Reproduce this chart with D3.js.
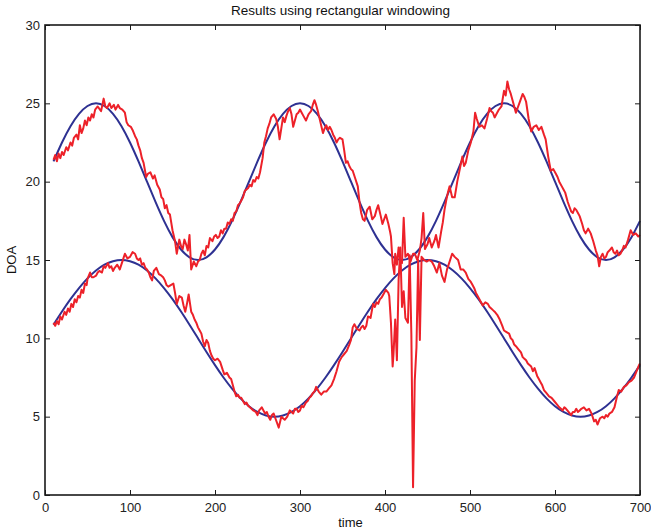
<!DOCTYPE html>
<html><head><meta charset="utf-8">
<script src="https://cdn.jsdelivr.net/npm/d3@7/dist/d3.min.js"></script>
<style>body{margin:0;background:#fff}svg{display:block;font-family:"Liberation Sans",Arial,Helvetica,sans-serif}</style>
</head><body><svg id="c" width="651" height="532"></svg>
<script>
const title = "Results using rectangular windowing";
const xLabel = "time", yLabel = "DOA";
const xTicks = [0,100,200,300,400,500,600,700];
const yTicks = [0,5,10,15,20,25,30];

const blueT = d3.range(10, 701, 10);
const blueUpper = [21.29,22.5,23.54,24.33,24.83,
 25,24.83,24.33,23.54,22.5,21.29,20,18.71,17.5,16.46,15.67,15.17,15,15.17,15.67,16.46,17.5,18.71,20,21.29,22.5,23.54,24.33,24.83,
 25,24.83,24.33,23.54,22.5,21.29,20,18.71,17.5,16.46,15.67,15.17,15,15.17,15.67,16.46,17.5,18.71,20,21.29,22.5,23.54,24.33,24.83,
 25,24.83,24.33,23.54,22.5,21.29,20,18.71,17.5,16.46,15.67,15.17,15,15.17,15.67,16.46,17.5];
const blueLower = [10.87,11.71,12.5,13.21,13.83,14.33,14.70,14.92,
 15,14.92,14.70,14.33,13.83,13.21,12.5,11.71,10.87,10,9.13,8.29,7.5,6.79,6.17,5.67,5.30,5.08,5,5.08,5.30,5.67,6.17,6.79,7.5,8.29,9.13,10,
 10.87,11.71,12.5,13.21,13.83,14.33,14.70,14.92,15,14.92,14.70,14.33,13.83,13.21,12.5,11.71,10.87,10,9.13,8.29,7.5,6.79,6.17,5.67,5.30,5.08,5,
 5.08,5.30,5.67,6.17,6.79,7.5,8.29];

const redUpper = [[10,21.4],[12,21.7],[14,21.3],[16,21.8],[18,21.5],[20,21.9],[22,21.7],[25,22.2],[27,22.0],[30,22.5],[32,22.3],[34,22.8],[37,23.0],[39,22.7],[41,23.6],[43,23.1],[45,23.4],[47,23.9],[49,23.6],[51,24.1],[53,23.9],[55,24.3],[57,24.1],[59,24.6],[62,24.8],[66,24.5],[69,25.3],[71,24.8],[73,24.7],[76,25.0],[78,24.7],[81,24.9],[83,24.6],[86,24.9],[88,24.7],[91,24.6],[94,24.4],[96,23.8],[98,23.6],[101,23.5],[103,23.3],[106,22.9],[108,22.7],[110,22.3],[112,22.0],[114,21.5],[116,21.2],[119,20.3],[121,20.5],[124,20.6],[127,20.2],[129,20.4],[132,19.8],[135,19.5],[137,19.0],[139,18.9],[141,18.3],[143,18.5],[145,18.0],[147,17.9],[150,16.9],[153,16.2],[155,15.4],[158,16.3],[160,15.9],[162,15.7],[164,16.3],[166,16.0],[168,15.6],[170,16.6],[172,14.4],[175,14.9],[178,14.6],[180,14.9],[182,15.0],[184,15.4],[186,15.6],[188,15.3],[190,15.9],[192,15.8],[194,16.4],[197,16.2],[199,16.5],[201,16.6],[203,16.4],[205,16.5],[207,16.9],[209,16.7],[211,17.0],[213,17.0],[215,17.4],[217,17.3],[219,17.6],[221,17.5],[223,18.0],[225,18.1],[227,18.5],[229,18.6],[231,18.8],[233,19.0],[235,19.4],[237,19.5],[239,19.6],[241,19.8],[243,19.7],[245,20.1],[247,20.0],[249,20.3],[251,20.2],[253,20.6],[256,21.5],[258,22.5],[260,22.9],[262,23.4],[264,23.7],[266,24.1],[269,24.3],[272,24.0],[274,23.5],[276,22.7],[278,23.4],[280,24.1],[282,23.8],[284,24.2],[286,24.5],[288,24.7],[290,24.3],[292,23.5],[294,23.9],[296,24.3],[298,24.4],[300,24.6],[302,24.4],[304,24.2],[307,23.9],[310,24.3],[313,24.5],[315,24.9],[317,25.2],[319,24.9],[321,24.5],[324,23.8],[327,23.1],[329,23.4],[331,23.6],[333,23.3],[335,23.5],[337,23.3],[339,23.0],[341,22.8],[343,22.5],[345,22.7],[347,22.8],[350,22.7],[352,22.0],[354,21.2],[356,21.3],[358,21.0],[360,20.8],[362,20.7],[365,20.2],[368,19.7],[370,18.7],[372,18.0],[374,17.6],[376,17.5],[379,18.2],[382,18.4],[385,17.6],[388,17.8],[390,18.2],[392,18.5],[395,17.8],[397,17.3],[399,17.6],[401,17.9],[404,17.3],[406,16.8],[407,16.5],[409,14.8],[411,14.1],[412,15.4],[414,14.7],[416,15.8],[418,14.9],[420,14.8],[422,17.7],[424,15.2],[427,15.4],[430,14.9],[433,15.4],[435,15.4],[438,15.0],[441,15.6],[443,16.4],[445,18.0],[447,15.7],[450,16.0],[452,16.4],[455,15.8],[458,16.2],[460,16.6],[463,15.8],[466,16.8],[468,17.4],[470,18.2],[472,18.8],[474,19.3],[476,19.7],[479,19.0],[482,19.0],[485,20.0],[488,20.8],[491,21.6],[493,21.0],[495,21.2],[498,22.0],[501,22.5],[504,23.2],[506,24.4],[508,24.0],[511,23.5],[514,23.6],[517,23.4],[520,24.0],[523,24.7],[525,24.5],[527,24.4],[529,24.1],[531,24.3],[534,24.6],[537,24.8],[540,25.8],[542,25.5],[544,26.4],[546,25.9],[548,25.6],[551,25.0],[554,24.4],[556,24.7],[558,25.0],[560,25.3],[562,25.6],[564,25.4],[566,25.1],[569,24.0],[572,23.2],[575,23.5],[578,23.6],[581,23.3],[584,23.5],[587,23.0],[589,22.7],[592,21.6],[595,20.7],[598,20.8],[601,20.5],[603,20.3],[605,20.0],[608,19.7],[610,19.5],[612,19.3],[615,18.7],[617,18.4],[619,18.1],[621,18.0],[623,18.3],[625,18.2],[627,18.0],[629,17.8],[632,17.3],[634,16.9],[636,16.7],[639,17.0],[642,16.7],[645,16.2],[648,15.6],[650,15.3],[652,14.6],[654,15.2],[656,15.4],[658,15.1],[660,15.2],[662,15.5],[664,15.6],[667,15.8],[669,15.5],[671,15.4],[673,15.6],[675,15.3],[677,15.4],[679,15.6],[681,15.9],[683,15.8],[686,16.3],[689,16.9],[692,16.6],[695,16.7],[698,16.5],[700,16.6]];

const redLower = [[10,11.0],[12,10.8],[14,11.1],[16,10.9],[18,11.4],[20,11.2],[23,11.7],[25,11.5],[27,11.9],[29,11.7],[31,12.2],[33,12.0],[35,12.5],[37,12.3],[39,12.7],[41,12.6],[43,13.1],[45,12.9],[47,13.5],[49,13.4],[50,13.8],[53,14.2],[55,13.9],[57,13.9],[60,14.0],[62,14.2],[64,14.3],[67,14.2],[69,14.6],[71,14.5],[74,14.8],[76,14.5],[78,14.6],[80,14.3],[82,14.5],[85,14.7],[88,14.4],[91,14.9],[94,15.4],[97,15.1],[100,15.2],[103,15.5],[106,15.4],[108,15.1],[110,15.0],[112,15.1],[114,14.7],[116,14.8],[118,14.5],[120,14.4],[122,14.2],[124,13.9],[126,13.7],[128,14.3],[131,14.5],[134,14.1],[137,14.0],[139,13.9],[141,13.7],[143,13.4],[145,13.3],[148,13.4],[151,13.5],[153,12.9],[155,12.2],[158,12.7],[161,12.6],[163,12.1],[165,11.7],[167,12.2],[169,12.8],[172,11.7],[174,11.5],[176,11.2],[178,11.0],[180,10.7],[182,10.5],[184,10.3],[186,9.8],[188,9.5],[190,9.9],[192,9.7],[194,9.2],[196,8.9],[198,8.7],[200,8.6],[203,8.7],[206,8.5],[209,8.0],[211,7.7],[214,7.8],[217,7.5],[219,7.4],[221,7.0],[223,6.6],[225,6.3],[227,6.4],[229,6.2],[231,6.2],[233,6.0],[235,5.8],[237,5.9],[239,5.7],[241,5.6],[243,5.5],[245,5.4],[248,5.3],[250,5.1],[252,5.4],[255,5.6],[257,5.4],[259,5.2],[261,5.3],[263,5.0],[265,4.8],[267,5.1],[269,5.2],[271,4.9],[273,4.6],[275,4.3],[278,5.0],[280,4.9],[282,4.8],[285,5.0],[288,5.4],[290,5.3],[292,5.2],[294,5.5],[296,5.5],[298,5.3],[300,5.4],[302,5.7],[304,5.6],[307,5.9],[309,6.0],[311,6.2],[313,6.3],[315,6.5],[317,6.6],[319,6.9],[322,6.6],[325,6.4],[328,6.6],[331,6.6],[334,6.8],[337,7.0],[340,7.4],[343,7.9],[346,8.5],[349,8.8],[352,9.0],[355,9.2],[358,9.6],[360,9.9],[362,10.7],[364,10.9],[367,10.6],[370,10.5],[372,10.7],[374,10.8],[376,10.6],[378,10.8],[380,11.4],[383,11.3],[386,12.2],[388,12.0],[390,12.3],[392,12.2],[394,12.5],[396,12.6],[398,12.8],[401,13.1],[404,12.9],[405,12.7],[407,11.0],[409,8.2],[410,9.0],[412,11.2],[414,8.6],[416,13.7],[418,15.8],[420,12.0],[422,13.0],[424,11.3],[427,11.0],[429,15.3],[431,10.3],[433,0.5],[435,7.3],[437,9.4],[439,15.0],[441,9.9],[443,15.2],[446,15.0],[449,14.9],[452,15.0],[455,14.9],[458,14.6],[461,14.2],[464,14.8],[467,14.0],[470,13.6],[473,14.4],[476,14.9],[479,15.4],[482,15.2],[486,15.0],[489,14.4],[492,14.4],[495,14.2],[498,13.8],[501,13.6],[503,13.4],[505,13.2],[507,12.9],[509,12.7],[512,12.4],[515,12.1],[518,12.3],[521,12.2],[523,12.0],[525,11.9],[527,11.8],[529,11.7],[532,11.5],[535,11.2],[538,10.8],[540,10.5],[543,10.4],[546,10.3],[548,10.0],[550,9.9],[552,9.6],[554,9.5],[557,9.3],[560,9.1],[562,8.8],[564,8.7],[566,8.6],[568,8.4],[570,8.3],[572,8.2],[574,7.9],[576,8.1],[579,7.6],[581,7.4],[583,7.2],[585,7.0],[587,6.7],[590,6.5],[593,6.3],[596,6.2],[599,6.0],[602,5.8],[605,5.6],[607,5.5],[609,5.4],[611,5.6],[613,5.5],[616,5.3],[619,5.1],[621,5.3],[623,5.3],[625,5.5],[627,5.3],[629,5.4],[631,5.5],[634,5.6],[637,5.4],[640,5.5],[643,5.2],[646,4.7],[648,4.8],[650,4.5],[653,4.9],[656,5.0],[658,4.9],[660,5.1],[662,5.0],[664,5.2],[667,5.3],[670,5.6],[673,6.3],[675,6.7],[678,6.6],[681,6.9],[684,7.0],[687,7.2],[690,7.3],[693,7.5],[696,7.9],[699,8.3],[700,8.4]];

const svg = d3.select("#c");
const L = 45, R = 640, T = 25, B = 495;
const x = d3.scaleLinear().domain([0,700]).range([L,R]);
const y = d3.scaleLinear().domain([0,30]).range([B,T]);

const blueColor = "#2e3192", redColor = "#ed2129";
const lineB = d3.line().x(d => x(d[0])).y(d => y(d[1])).curve(d3.curveNatural);
const lineR = d3.line().x(d => x(d[0])).y(d => y(d[1]));

const g = svg.append("g");
[blueUpper, blueLower].forEach(arr => {
  g.append("path").datum(blueT.map((t,i)=>[t,arr[i]]))
    .attr("d", lineB).attr("fill","none").attr("stroke",blueColor).attr("stroke-width",2);
});
[redUpper, redLower].forEach(arr => {
  g.append("path").datum(arr).attr("d", lineR).attr("fill","none")
    .attr("stroke",redColor).attr("stroke-width",2).attr("stroke-linejoin","round");
});

const axColor = "#1a1a1a";
const fs = "13px";
function styleAxis(sel, showText){
  sel.select(".domain").remove();
  sel.selectAll("line").attr("stroke",axColor).attr("stroke-width",1);
  sel.selectAll("text").attr("fill","#222").style("font-size",fs);
  if(!showText) sel.selectAll("text").remove();
}
svg.append("g").attr("transform",`translate(0,${B})`)
  .call(d3.axisBottom(x).tickValues(xTicks).tickSize(-5).tickPadding(8).tickFormat(d3.format("d")))
  .call(s=>styleAxis(s,true)).attr("font-family",null);
svg.append("g").attr("transform",`translate(0,${T})`)
  .call(d3.axisTop(x).tickValues(xTicks).tickSize(-5)).call(s=>styleAxis(s,false));
svg.append("g").attr("transform",`translate(${L},0)`)
  .call(d3.axisLeft(y).tickValues(yTicks).tickSize(-5).tickPadding(5).tickFormat(d3.format("d")))
  .call(s=>styleAxis(s,true)).attr("font-family",null);
svg.append("g").attr("transform",`translate(${R},0)`)
  .call(d3.axisRight(y).tickValues(yTicks).tickSize(-5)).call(s=>styleAxis(s,false));

svg.append("rect").attr("x",L).attr("y",T).attr("width",R-L).attr("height",B-T)
  .attr("fill","none").attr("stroke",axColor).attr("stroke-width",1.6);

svg.append("text").attr("x",(L+R)/2 - 2).attr("y",15).attr("text-anchor","middle")
  .style("font-size","13.5px").attr("fill","#111").text(title);
svg.append("text").attr("x",(L+R)/2 + 8).attr("y",527).attr("text-anchor","middle")
  .style("font-size","13px").attr("fill","#111").text(xLabel);
svg.append("text").attr("transform",`translate(16,${(T+B)/2}) rotate(-90)`).attr("text-anchor","middle")
  .style("font-size","13px").attr("fill","#111").text(yLabel);
</script></body></html>
